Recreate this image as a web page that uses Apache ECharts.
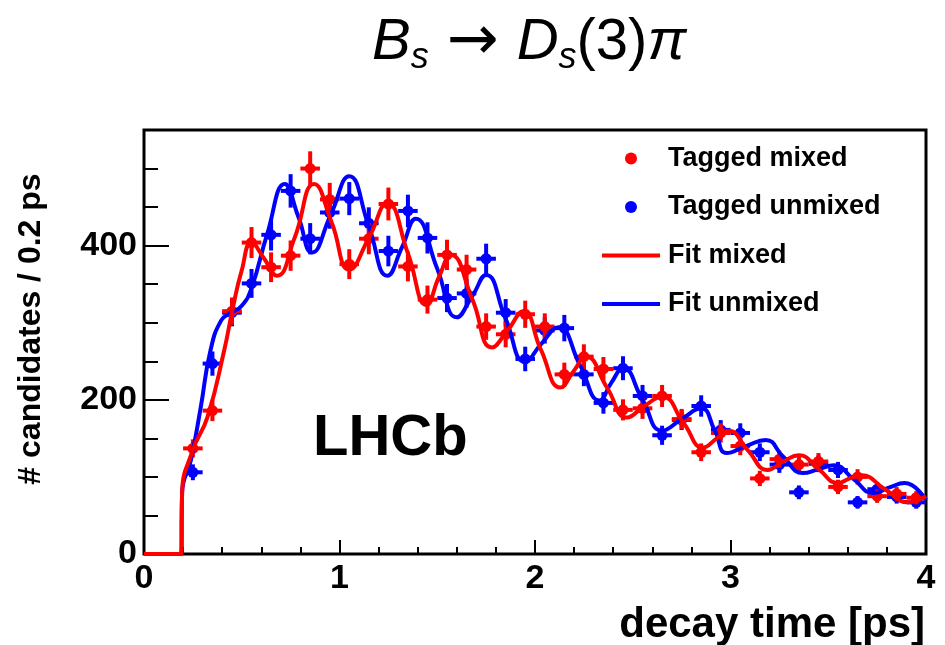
<!DOCTYPE html>
<html><head><meta charset="utf-8">
<script src="https://cdn.jsdelivr.net/npm/echarts@6/dist/echarts.min.js"></script>
<style>html,body{margin:0;padding:0;background:#fff}#c{width:945px;height:645px}</style>
</head><body><div id="c"></div>
<script>
// bin centres (ps)
const binCenters = [0.25,0.35,0.45,0.55,0.65,0.75,0.85,0.95,1.05,1.15,1.25,1.35,1.45,1.55,1.65,1.75,1.85,1.95,2.05,2.15,2.25,2.35,2.45,2.55,2.65,2.75,2.85,2.95,3.05,3.15,3.25,3.35,3.45,3.55,3.65,3.75,3.85,3.95];
// tagged mixed candidates
const mixedCounts = [137,186,315,404,372,387,500,460,376,409,454,373,330,388,369,295,285,311,295,233,256,240,187,189,205,175,132,157,140,98,123,116,120,87,100,75,78,73];
// tagged unmixed candidates
const unmixedCounts = [106,247,313,351,414,471,409,443,461,429,393,445,410,332,338,383,313,253,290,293,233,196,241,205,154,174,192,161,157,132,116,80,117,109,67,84,74,67];
// fit curves: [time, value]
const fitMixed = [[0,0],[0.19,0],[0.195,80],[0.25,135],[0.325,178],[0.41,264],[0.455,320],[0.5,368],[0.55,404],[0.61,385],[0.68,361],[0.77,410],[0.87,480],[0.96,430],[1.05,369],[1.15,410],[1.245,455],[1.35,390],[1.445,323],[1.51,360],[1.57,388],[1.68,330],[1.78,268],[1.86,290],[1.94,315],[2.03,265],[2.13,216],[2.2,238],[2.26,256],[2.37,215],[2.47,177],[2.56,192],[2.65,204],[2.76,170],[2.86,138],[2.93,150],[2.99,160],[3.09,134],[3.19,109],[3.27,120],[3.35,128],[3.45,110],[3.55,92],[3.61,98],[3.67,102],[3.79,84],[3.91,67],[4.0,75]];
const fitUnmixed = [[0,0],[0.19,0],[0.195,80],[0.24,122],[0.29,190],[0.34,264],[0.395,303],[0.445,313],[0.5,322],[0.55,345],[0.63,415],[0.72,480],[0.79,437],[0.86,391],[0.955,440],[1.05,490],[1.15,425],[1.245,361],[1.32,398],[1.39,435],[1.5,370],[1.6,307],[1.68,335],[1.75,362],[1.85,305],[1.95,249],[2.03,272],[2.12,294],[2.23,245],[2.33,199],[2.39,222],[2.45,241],[2.55,200],[2.65,160],[2.75,175],[2.85,189],[2.92,160],[2.98,131],[3.08,140],[3.18,148],[3.27,126],[3.37,105],[3.45,110],[3.53,115],[3.63,97],[3.73,79],[3.81,86],[3.89,92],[4.0,70]];
const halfBin = 0.05;

const RED = '#ff0000', BLUE = '#0000ff';
const FONT = 'Liberation Sans';

function pointRenderer(color){
  return function(params, api){
    const t = api.value(0), v = api.value(1);
    const e = Math.sqrt(v);
    const c = api.coord([t, v]);
    const top = api.coord([t, v + e]), bot = api.coord([t, v - e]);
    const l = api.coord([t - halfBin, v]), r = api.coord([t + halfBin, v]);
    return {type:'group', children:[
      {type:'line', shape:{x1:c[0], y1:top[1], x2:c[0], y2:bot[1]}, style:{stroke:color, lineWidth:4}},
      {type:'line', shape:{x1:l[0], y1:c[1], x2:r[0], y2:c[1]}, style:{stroke:color, lineWidth:4}},
      {type:'circle', shape:{cx:c[0], cy:c[1], r:5.5}, style:{fill:color}}
    ]};
  };
}

const chart = echarts.init(document.getElementById('c'), null, {renderer:'canvas'});
const labelStyle = {fontFamily:FONT, fontWeight:'bold', fontSize:34, color:'#000'};
const lineIcon = 'path://M0,0H58V4H0Z';
chart.setOption({
  animation:false,
  backgroundColor:'#fff',
  grid:{left:144, right:19, top:130, bottom:91, show:true, borderColor:'#000', borderWidth:3, backgroundColor:'transparent'},
  xAxis:{type:'value', min:0, max:4, interval:1,
    axisLine:{show:false},
    axisTick:{show:true, inside:true, length:14, lineStyle:{color:'#000', width:2}},
    minorTick:{show:true, splitNumber:5, length:7, lineStyle:{color:'#000', width:2}},
    splitLine:{show:false}, minorSplitLine:{show:false},
    axisLabel:Object.assign({margin:8}, labelStyle)
  },
  yAxis:[
    {type:'value', min:0, max:550, interval:200,
      axisLine:{show:false},
      axisTick:{show:true, inside:true, length:25, lineStyle:{color:'#000', width:2}},
      splitLine:{show:false},
      axisLabel:Object.assign({margin:7, showMaxLabel:false}, labelStyle)
    },
    {type:'value', min:0, max:550, interval:50, position:'left',
      axisLine:{show:false},
      axisTick:{show:true, inside:true, length:14, lineStyle:{color:'#000', width:2}},
      splitLine:{show:false},
      axisLabel:{show:false}
    }
  ],
  legend:{
    orient:'vertical', left:597, top:140, itemWidth:58, itemHeight:12, itemGap:21.5,
    textStyle:{fontFamily:FONT, fontWeight:'bold', fontSize:27, color:'#000', lineHeight:27, padding:[0,0,0,3]},
    data:[
      {name:'Tagged mixed', icon:'circle'},
      {name:'Tagged unmixed', icon:'circle'},
      {name:'Fit mixed', icon:lineIcon, itemStyle:{color:RED}},
      {name:'Fit unmixed', icon:lineIcon, itemStyle:{color:BLUE}}
    ]
  },
  graphic:[
    {type:'text', x:372, y:10, style:{
      text:'{i|B}{s|s}{a|→}{i|D}{s|s}{n|(3)}{i|π}',
      rich:{
        i:{fontFamily:FONT, fontStyle:'italic', fontSize:58, lineHeight:66, verticalAlign:'middle', fill:'#000'},
        n:{fontFamily:FONT, fontSize:58, lineHeight:66, verticalAlign:'middle', fill:'#000'},
        a:{fontFamily:'DejaVu Sans', fontSize:62, lineHeight:66, verticalAlign:'middle', fill:'#000', padding:[0,18,0,18]},
        s:{fontFamily:FONT, fontStyle:'italic', fontSize:36, lineHeight:30, verticalAlign:'bottom', fill:'#000'}
      }
    }},
    {type:'text', left:313, top:410, style:{text:'LHCb', fontFamily:FONT, fontWeight:'bold', fontSize:58, fill:'#000'}},
    {type:'text', right:20, top:604, style:{text:'decay time [ps]', fontFamily:FONT, fontWeight:'bold', fontSize:42, fill:'#000'}},
    {type:'text', x:31, y:329, rotation:Math.PI/2, style:{text:'# candidates / 0.2 ps', fontFamily:FONT, fontWeight:'bold', fontSize:32, fill:'#000', align:'center', verticalAlign:'middle'}}
  ],
  series:[
    {name:'Tagged unmixed', type:'custom', renderItem:pointRenderer(BLUE), itemStyle:{color:BLUE},
      data:binCenters.map((t,i)=>[t, unmixedCounts[i]]), encode:{x:0, y:1}, z:2},
    {name:'Tagged mixed', type:'custom', renderItem:pointRenderer(RED), itemStyle:{color:RED},
      data:binCenters.map((t,i)=>[t, mixedCounts[i]]), encode:{x:0, y:1}, z:3},
    {name:'Fit unmixed', type:'line', data:fitUnmixed, smooth:0.5, symbol:'none',
      lineStyle:{color:BLUE, width:4}, itemStyle:{color:BLUE}, z:4},
    {name:'Fit mixed', type:'line', data:fitMixed, smooth:0.5, symbol:'none',
      lineStyle:{color:RED, width:4}, itemStyle:{color:RED}, z:5}
  ]
});
</script></body></html>
